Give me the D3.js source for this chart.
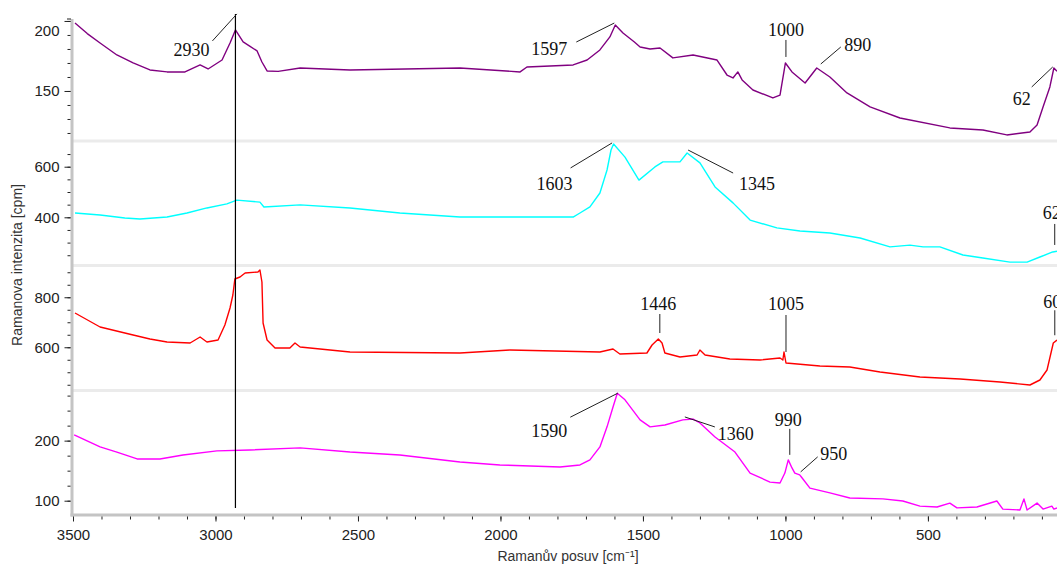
<!DOCTYPE html>
<html>
<head>
<meta charset="utf-8">
<script src="https://cdn.jsdelivr.net/npm/d3@7"></script>
<style>
  body { margin:0; background:#fff; }
  svg { display:block; }
</style>
</head>
<body>
<div id="chart"></div>
<script>
// spectra: [wavenumber cm-1, intensity cpm]
const purpleSpectrum = [[3493,198.6],[3450,191],[3405,184.3],[3346,175.7],[3289,170],[3230,165],[3170,163.6],[3107,163.6],[3054,168.6],[3026,165.7],[2977,172.1],[2949,184.3],[2930,193.6],[2903,185],[2880,182],[2854,178.6],[2837,170.7],[2819,164.3],[2780,164],[2703,166.4],[2528,165],[2142,166.4],[1931,163.6],[1907,167.1],[1745,168.6],[1696,172.1],[1651,179.3],[1616,188.6],[1597,197.1],[1570,191.4],[1530,185],[1510,181.4],[1475,180],[1440,180.7],[1395,173.6],[1324,175.7],[1240,172.1],[1205,161.4],[1184,159.3],[1167,163.6],[1152,157.9],[1114,150.7],[1044,145],[1019,147.1],[1000,170],[977,163.6],[931,155.7],[890,166.4],[844,160],[784,148.6],[703,138.6],[598,130.7],[423,123.6],[307,122.1],[223,118.6],[142,120.7],[117,125.7],[96,138.6],[72,152.9],[58,166.4],[47,164]]
const cyanSpectrum = [[3493,417],[3405,409],[3318,397],[3265,393],[3170,401],[3100,417],[3030,437],[2960,453],[2925,468],[2844,460],[2830,441],[2703,449],[2528,437],[2353,417],[2142,401],[1745,401],[1721,417],[1686,441],[1651,496],[1626,587],[1612,666],[1603,690],[1563,638],[1514,547],[1458,599],[1430,619],[1370,619],[1345,654],[1300,615],[1247,520],[1184,457],[1124,389],[1030,358],[949,346],[844,338],[738,318],[633,283],[563,290],[517,283],[458,283],[377,251],[307,239],[212,223],[152,223],[107,243],[62,263],[47,266]]
const redSpectrum = [[3493,737],[3405,681],[3289,649],[3230,633],[3170,621],[3089,617],[3054,641],[3030,621],[2991,629],[2967,689],[2949,757],[2939,809],[2932,873],[2914,881],[2896,897],[2851,901],[2844,909],[2837,861],[2833,697],[2819,629],[2791,597],[2739,597],[2721,617],[2703,601],[2528,581],[2142,577],[1967,589],[1651,581],[1605,593],[1581,573],[1486,577],[1468,609],[1446,633],[1433,617],[1423,577],[1370,561],[1310,569],[1300,589],[1282,569],[1195,553],[1089,549],[1019,557],[1009,549],[1005,581],[998,537],[879,525],[774,521],[668,501],[528,481],[387,473],[247,461],[142,449],[107,469],[82,509],[60,617],[47,629]]
const magentaSpectrum = [[3496,209.5],[3405,189.5],[3346,181],[3275,169.5],[3195,169.5],[3114,176],[2995,183],[2879,184.5],[2703,188],[2528,181],[2353,176],[2142,164.5],[2002,159.5],[1791,156],[1721,159.5],[1686,168],[1651,189.5],[1626,223],[1605,256],[1590,279],[1563,268],[1510,234.5],[1475,223],[1423,226],[1360,234.5],[1324,236],[1300,229.5],[1247,206],[1177,181],[1124,146],[1054,131],[1019,129.5],[1002,146],[990,168],[977,154.5],[967,146],[950,143],[944,139.5],[914,121],[844,113],[774,104.5],[658,103],[588,99.5],[528,91],[468,89.5],[423,96],[398,88],[328,89.5],[258,99.5],[237,86],[177,84.5],[163,103],[152,84.5],[117,96],[96,86],[65,91],[58,86],[47,88]]

const seriesColors = ["#800080","#00ffff","#ff0000","#ff00ff"]

// y axis ranges of the four stacked panels
const panelDomains = [[115.7,201.4],[215.4,693.7],[433,921],[79.5,281]]
const majorTicks = [[150,200],[400,600],[600,800],[100,200]]
const minorTicks = [d3.range(120,201,10), d3.range(250,651,50), d3.range(450,901,50), d3.range(100,276,25)]

const xMajor = d3.range(500,3501,500)
const xMinor = d3.range(100,3500,100)

// peak labels: series index, wavenumber, intensity at peak, text
const peakLabels = [
  {s:0, wn:2930, v:193.6, text:"2930"},
  {s:0, wn:1597, v:197.1, text:"1597"},
  {s:0, wn:1000, v:170,   text:"1000"},
  {s:0, wn:890,  v:166.4, text:"890"},
  {s:0, wn:62,   v:165,   text:"62"},
  {s:1, wn:1603, v:690,   text:"1603"},
  {s:1, wn:1345, v:654,   text:"1345"},
  {s:1, wn:62,   v:263,   text:"62"},
  {s:2, wn:1446, v:633,   text:"1446"},
  {s:2, wn:1005, v:581,   text:"1005"},
  {s:2, wn:60,   v:620,   text:"60"},
  {s:3, wn:1590, v:279,   text:"1590"},
  {s:3, wn:1360, v:234.5, text:"1360"},
  {s:3, wn:990,  v:168,   text:"990"},
  {s:3, wn:950,  v:143,   text:"950"}
]
// label placement relative to the peak: text centre t, leader from a to b (pixels)
const labelLayout = [
  {t:[-44,20], a:[-23,11], b:[1.5,-16]},
  {t:[-66,24], a:[-39,17], b:[-1,-2]},
  {t:[0.5,-33], a:[0.5,-23], b:[0.5,-6]},
  {t:[41,-23], a:[24,-21], b:[4,-4]},
  {t:[-31,29], a:[-21,17], b:[0,-3]},
  {t:[-59,40], a:[-43,24], b:[-1.5,-1]},
  {t:[70,31], a:[46,20], b:[1,-3]},
  {t:[-1,-39], a:[2,-28], b:[2,-7]},
  {t:[0,-35], a:[1.5,-25], b:[1.5,-6]},
  {t:[2,-48], a:[2,-37], b:[2,0]},
  {t:[-1,-41], a:[1.5,-32], b:[1.5,-7]},
  {t:[-68,37], a:[-47,24], b:[0.5,0]},
  {t:[53,14], a:[32,7], b:[2,-3]},
  {t:[0,-40], a:[1.5,-31], b:[1.5,-5]},
  {t:[34,-21], a:[18,-18], b:[1,-3]}
]

const W = 1057, H = 566
const left = 73, right = 1057, axisY = 515
const panelPx = [[139,19],[264,143],[389,267],[513,392]]
const bands = [141,265.5,390.5]

const svg = d3.select("#chart").append("svg")
  .attr("width", W).attr("height", H)
  .style("font-family","'Liberation Sans', Arial, sans-serif")

const x = d3.scaleLinear().domain([3500,47]).range([left,right])
const ys = panelDomains.map((dom,i) => d3.scaleLinear().domain(dom).range(panelPx[i]))

//separator bands between panels
svg.selectAll(".band")
  .data(bands)
  .enter()
  .append("rect")
    .attr("x", left)
    .attr("y", d => d - 1.5)
    .attr("width", right - left)
    .attr("height", 3)
    .attr("fill", "#ebebeb")

//axis lines (thick gray)
svg.append("line")
  .attr("x1", left - 1).attr("x2", left - 1)
  .attr("y1", 19).attr("y2", axisY + 1.5)
  .attr("stroke", "#c4c4c4").attr("stroke-width", 3)
svg.append("line")
  .attr("x1", left - 2.5).attr("x2", right)
  .attr("y1", axisY).attr("y2", axisY)
  .attr("stroke", "#c4c4c4").attr("stroke-width", 3)
svg.append("line")
  .attr("x1", left - 6).attr("x2", left - 2)
  .attr("y1", 19).attr("y2", 19)
  .attr("stroke", "#222")

//y axes
ys.forEach((y,i) => {
  const gMinor = svg.append("g")
    .attr("transform","translate(" + (left - 2.5) + ",0)")
    .call(d3.axisLeft(y).tickValues(minorTicks[i]).tickSize(3).tickFormat(""))
  const gMajor = svg.append("g")
    .attr("transform","translate(" + (left - 2.5) + ",0)")
    .call(d3.axisLeft(y).tickValues(majorTicks[i]).tickSize(6).tickPadding(5).tickFormat(d3.format("d")))
  for (let g of [gMinor, gMajor]) {
    g.select(".domain").remove()
    g.selectAll(".tick line").attr("stroke","#222")
  }
  gMajor.selectAll("text")
    .style("font-size","15px")
    .attr("fill","#222")
    .attr("dy", d => d == 200 && i == 0 ? "1.0em" : "0.32em")
})

//x axis
const gxMinor = svg.append("g")
  .attr("transform","translate(0," + (axisY + 1.5) + ")")
  .call(d3.axisBottom(x).tickValues(xMinor).tickSize(3).tickFormat(""))
const gxMajor = svg.append("g")
  .attr("transform","translate(0," + (axisY + 1.5) + ")")
  .call(d3.axisBottom(x).tickValues(xMajor).tickSize(5).tickPadding(8).tickFormat(d3.format("d")))
for (let g of [gxMinor, gxMajor]) {
  g.select(".domain").remove()
  g.selectAll(".tick line").attr("stroke","#222")
}
gxMajor.selectAll("text").style("font-size","15px").attr("fill","#222")

svg.append("text")
  .attr("x", 568).attr("y", 561)
  .attr("text-anchor","middle")
  .style("font-size","14px").attr("fill","#333")
  .text("Ramanův posuv [cm⁻¹]")
svg.append("text")
  .attr("transform","translate(22,265) rotate(-90)")
  .attr("text-anchor","middle")
  .style("font-size","14px").attr("fill","#333")
  .text("Ramanova intenzita [cpm]")

//spectra
const spectra = [purpleSpectrum, cyanSpectrum, redSpectrum, magentaSpectrum]
spectra.forEach((data,i) => {
  svg.append("path")
    .datum(data)
    .attr("fill","none")
    .attr("stroke", seriesColors[i])
    .attr("stroke-width",1.4)
    .attr("stroke-linejoin","round")
    .attr("d", d3.line().x(d => x(d[0])).y(d => ys[i](d[1])))
})

//vertical marker at 2930
svg.append("line")
  .attr("x1", x(2930)).attr("x2", x(2930))
  .attr("y1", 14).attr("y2", 508)
  .attr("stroke","#000").attr("stroke-width",1.2)

//peak labels
peakLabels.forEach((p,i) => {
  const L = labelLayout[i]
  const ax = x(p.wn), ay = ys[p.s](p.v)
  svg.append("line")
    .attr("x1", ax + L.a[0]).attr("y1", ay + L.a[1])
    .attr("x2", ax + L.b[0]).attr("y2", ay + L.b[1])
    .attr("stroke","#222").attr("stroke-width",1)
  svg.append("text")
    .attr("x", ax + L.t[0]).attr("y", ay + L.t[1])
    .attr("dy","0.35em")
    .attr("text-anchor","middle")
    .style("font-family","'Liberation Serif', 'Times New Roman', serif")
    .style("font-size","18px")
    .attr("fill","#111")
    .text(p.text)
})
</script>
</body>
</html>
